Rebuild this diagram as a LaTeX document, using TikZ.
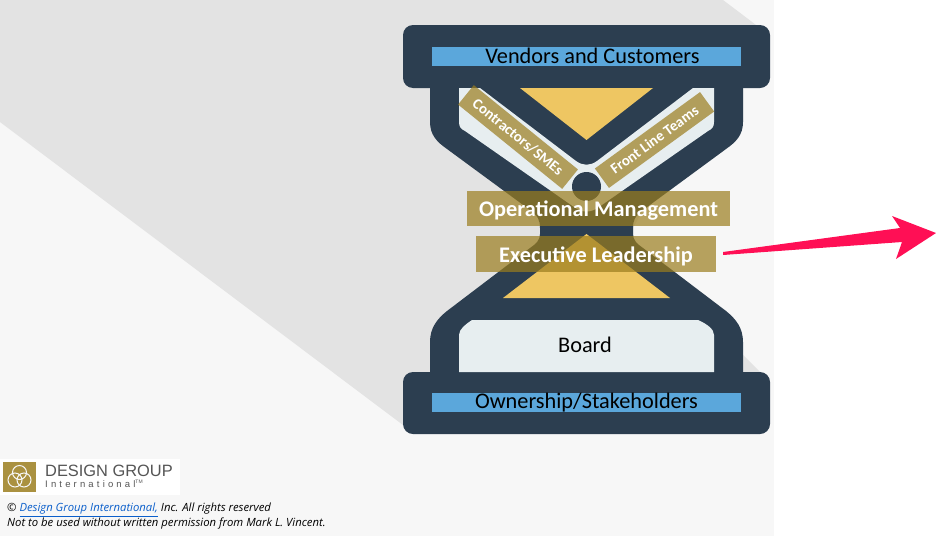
\documentclass[tikz,border=0pt]{standalone}
\usepackage{amsmath}
\usepackage{fontspec}
\setmainfont{Carlito}
\newfontfamily\notefont{Open Sans}
\newfontfamily\logofont{Liberation Sans}
\definecolor{navy}{HTML}{2C3E50}
\definecolor{paper}{HTML}{F7F7F7}
\definecolor{shadow}{HTML}{E3E3E3}
\definecolor{pale}{HTML}{E7EEF0}
\definecolor{sand}{HTML}{EEC662}
\definecolor{barblue}{HTML}{5BA7DB}
\definecolor{gold}{HTML}{9B7D1E}
\definecolor{hotpink}{HTML}{FF0F55}
\definecolor{linkblue}{HTML}{0B5FCB}
\definecolor{logogray}{HTML}{555555}
\begin{document}
\begin{tikzpicture}[x=1pt,y=-1pt,
  bar label/.style={font=\fontsize{22.3}{22.3}\selectfont,text=black,inner sep=0pt},
  blue bar/.style={fill=barblue,draw=none,minimum width=309pt,minimum height=19pt,inner sep=0pt},
  gold box/.style={fill=gold,fill opacity=.7,text opacity=1,text=white,inner sep=0pt,
    font=\bfseries\fontsize{22.3}{22.3}\selectfont},
  gold tab/.style={gold box,font=\bfseries\fontsize{15}{15}\selectfont},
  note line/.style={anchor=west,inner sep=0pt,font=\notefont\itshape\fontsize{11.3}{11.3}\selectfont}]

  \useasboundingbox (0,0) rectangle (936,536);
  \fill[white] (0,0) rectangle (936,536);
  \fill[paper] (0,0) rectangle (774,536);
  \fill[shadow] (0,0) -- (723,0) -- (760,28) -- (743,80) -- (743,122) -- (726,149) -- (643,210)
     -- (633,228) -- (633,240) -- (643,248) -- (726,311) -- (743,355) -- (760,372)
     -- (403,425) -- (0,122) -- cycle;

  % hourglass
  \fill[navy] (430,80) -- (430,122) .. controls (430,135) and (437,142) .. (447,149)
     -- (530,210) .. controls (538,216) and (540,220) .. (540,228)
     -- (540,234) .. controls (540,240) and (536,244) .. (530,248)
     -- (447,311) .. controls (437,319) and (430,328) .. (430,342) -- (430,380)
     -- (743,380) -- (743,342) .. controls (743,328) and (736,319) .. (726,311)
     -- (643,248) .. controls (637,244) and (633,240) .. (633,234)
     -- (633,228) .. controls (633,220) and (635,216) .. (643,210)
     -- (726,149) .. controls (736,142) and (743,135) .. (743,122) -- (743,80) -- cycle;
  \fill[navy,rounded corners=10pt] (403,25) rectangle (770,88);
  \fill[navy,rounded corners=10pt] (403,372) rectangle (770,434);

  \fill[pale] (459,88) -- (459,122) .. controls (459,127) and (461,129) .. (465,131)
     -- (574,207) .. controls (582,213) and (591,213) .. (599,207)
     -- (708,131) .. controls (712,129) and (714,127) .. (714,122) -- (714,88) -- (693,88)
     -- (597,161) .. controls (590,166) and (583,166) .. (576,161) -- (480,88) -- cycle;
  \fill[pale] (459,372) -- (459,335) .. controls (459,329) and (466,324) .. (472,320)
     -- (698,320) .. controls (707,324) and (714,329) .. (714,335) -- (714,372) -- cycle;
  \node[circle,fill=navy,minimum size=29pt,inner sep=0pt] (neck ball) at (586.5,186.5) {};

  \fill[sand] (520,88) -- (653,88) -- (586.5,140) -- cycle;
  \fill[sand] (503,298) -- (670,298) -- (586.5,234) -- cycle;

  \node[blue bar] (top bar) at (586.5,56.5) {};
  \node[blue bar] (bottom bar) at (586.5,402.5) {};
  \node[bar label] (vendors) at (592.5,56) {Vendors and Customers};
  \node[bar label] (owners) at (586.5,403) {Ownership/Stakeholders};
  \node[bar label] (board) at (585,345) {Board};

  \node[gold tab,minimum width=134pt,minimum height=25pt,rotate=-39] (contractors) at (518,137) {\raisebox{-5pt}[0pt][0pt]{Contractors/SMEs}};
  \node[gold tab,minimum width=130pt,minimum height=24pt,rotate=36] (front line) at (654.5,140) {\raisebox{-5pt}[0pt][0pt]{Front Line Teams}};
  \node[gold box,minimum width=263pt,minimum height=35pt] (operations) at (598.5,208.5) {\raisebox{-7.5pt}[0pt][0pt]{Operational Management}};
  \node[gold box,minimum width=240pt,minimum height=36pt] (executive) at (596,254) {\raisebox{-8pt}[0pt][0pt]{Executive Leadership}};

  % arrow
  \coordinate (arrow tail) at (723,253.5);
  \coordinate (arrow tip) at (936,233);
  \fill[hotpink] (arrow tail) ++(0,-1.5) -- (900,228) -- (892,216) -- (arrow tip) -- (896,259)
     -- (902,242) -- (723,255) -- cycle;

  % logo
  \fill[white] (0,459) rectangle (180,495);
  \fill[gold!85!white] (3,462) rectangle (36,492);
  \draw[paper,line width=1pt] (19.5,472.5) circle (7) (15,480) circle (7) (24,480) circle (7);
  \node[anchor=west,inner sep=0pt,text=logogray,font=\logofont\fontsize{16.4}{16.4}\selectfont] (logo name) at (45,471) {DESIGN GROUP};
  \node[anchor=west,inner sep=0pt,text=logogray,font=\logofont\fontsize{9.5}{9.5}\selectfont] (logo sub) at (45,484) {I\,\,n\,\,t\,\,e\,\,r\,\,n\,\,a\,\,t\,\,i\,\,o\,\,n\,\,a\,\,l\textsuperscript{\tiny TM}};

  % footer
  \node[note line] (copyright) at (7,510) {© \textcolor{linkblue}{\underline{Design Group International,}} Inc. All rights reserved};
  \node[note line] (permission) at (7,524) {Not to be used without written permission from Mark L. Vincent.};
\end{tikzpicture}
\end{document}
